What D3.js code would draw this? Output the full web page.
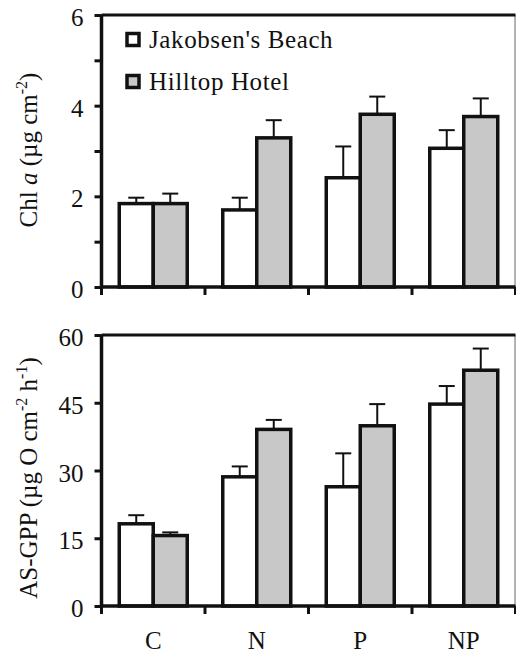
<!DOCTYPE html>
<html>
<head>
<meta charset="utf-8">
<script src="https://cdn.jsdelivr.net/npm/d3@7"></script>
<style>
  html, body { margin: 0; padding: 0; background: #fff; }
  svg { display: block; }
  text { font-family: "Liberation Serif", "Times New Roman", serif; fill: #111; }
</style>
</head>
<body>
<svg id="chart" width="516" height="656"></svg>
<script>
// ---- data ----
const categories = ["C", "N", "P", "NP"];
const seriesNames = ["Jakobsen's Beach", "Hilltop Hotel"];
const chlJakobsen = [1.84, 1.70, 2.41, 3.06];
const chlJakobsenErr = [0.13, 0.27, 0.69, 0.40];
const chlHilltop = [1.84, 3.29, 3.81, 3.76];
const chlHilltopErr = [0.22, 0.39, 0.39, 0.40];
const gppJakobsen = [18.2, 28.6, 26.4, 44.7];
const gppJakobsenErr = [1.9, 2.3, 7.4, 4.0];
const gppHilltop = [15.6, 39.1, 39.9, 52.2];
const gppHilltopErr = [0.7, 2.1, 4.8, 4.8];
const chlTicks = [0, 2, 4, 6];
const chlMinorTicks = [1, 3, 5];
const gppTicks = [0, 15, 30, 45, 60];

const fills = ["#ffffff", "#c8c8c8"];
const svg = d3.select("#chart");

const xLeft = 101.5, xRight = 515.5;
const x0 = d3.scaleBand().domain(categories).range([xLeft, xRight]).padding(0);
const barW = 34;
const x1 = d3.scaleBand().domain(seriesNames)
  .range([x0.bandwidth() / 2 - barW, x0.bandwidth() / 2 + barW]).padding(0);

function panel(cfg) {
  const y = d3.scaleLinear().domain(cfg.domain).range([cfg.bottom, cfg.top]);
  const g = svg.append("g");

  // frame: thin right edge, thick top edge
  g.append("line").attr("x1", xRight - 0.5).attr("x2", xRight - 0.5)
    .attr("y1", cfg.top).attr("y2", cfg.bottom)
    .attr("stroke", "#666").attr("stroke-width", 1);
  g.append("line").attr("x1", xLeft).attr("x2", xRight)
    .attr("y1", cfg.top).attr("y2", cfg.top)
    .attr("stroke", "#111").attr("stroke-width", 3);

  const data = categories.map((c, i) => ({
    cat: c,
    vals: [
      { s: seriesNames[0], v: cfg.a[i], e: cfg.ae[i], k: 0 },
      { s: seriesNames[1], v: cfg.b[i], e: cfg.be[i], k: 1 }
    ]
  }));

  const grp = g.selectAll("g.grp").data(data).join("g")
    .attr("transform", d => `translate(${x0(d.cat)},0)`);

  // error bars (upper only)
  grp.selectAll("line.err").data(d => d.vals).join("line")
    .attr("x1", d => x1(d.s) + x1.bandwidth() / 2)
    .attr("x2", d => x1(d.s) + x1.bandwidth() / 2)
    .attr("y1", d => y(d.v)).attr("y2", d => y(d.v + d.e))
    .attr("stroke", "#111").attr("stroke-width", 2);
  grp.selectAll("line.cap").data(d => d.vals).join("line")
    .attr("x1", d => x1(d.s) + x1.bandwidth() / 2 - 8)
    .attr("x2", d => x1(d.s) + x1.bandwidth() / 2 + 8)
    .attr("y1", d => y(d.v + d.e)).attr("y2", d => y(d.v + d.e))
    .attr("stroke", "#111").attr("stroke-width", 2);

  grp.selectAll("rect").data(d => d.vals).join("rect")
    .attr("x", d => x1(d.s))
    .attr("width", x1.bandwidth())
    .attr("y", d => y(d.v))
    .attr("height", d => y(0) - y(d.v))
    .attr("fill", d => fills[d.k])
    .attr("stroke", "#111").attr("stroke-width", 3.5)
    .attr("stroke-linejoin", "miter");

  // y axis
  const yAxis = d3.axisLeft(y).tickValues(cfg.ticks).tickSize(7).tickPadding(11)
    .tickFormat(d3.format("d"));
  const ya = g.append("g").attr("transform", `translate(${xLeft},0)`).call(yAxis);
  ya.select(".domain").attr("stroke", "#111").attr("stroke-width", 3.5)
    .attr("d", `M0,${cfg.top}V${cfg.bottom}`);
  ya.selectAll(".tick line").attr("stroke", "#111").attr("stroke-width", 3);
  ya.selectAll(".tick text").attr("font-size", 25)
    .attr("font-family", "Liberation Serif, Times New Roman, serif")
    .attr("fill", "#111").attr("dy", "0.42em");

  if (cfg.minor) {
    const ym = d3.axisLeft(y).tickValues(cfg.minor).tickSize(7).tickFormat("");
    const ymg = g.append("g").attr("transform", `translate(${xLeft},0)`).call(ym);
    ymg.select(".domain").remove();
    ymg.selectAll(".tick line").attr("stroke", "#111").attr("stroke-width", 3);
  }

  // x axis
  const xa = g.append("g").attr("transform", `translate(0,${cfg.bottom})`)
    .call(d3.axisBottom(x0).tickSize(0).tickFormat(""));
  xa.select(".domain").attr("stroke", "#111").attr("stroke-width", 3.5)
    .attr("d", `M${xLeft},0H${xRight}`);
  const bounds = categories.map(c => x0(c)).concat([xRight]);
  xa.selectAll("line.bound").data(bounds).join("line")
    .attr("x1", d => d).attr("x2", d => d).attr("y1", 0).attr("y2", 8)
    .attr("stroke", "#111").attr("stroke-width", 3);

  return { y, g };
}

const topPanel = panel({
  domain: [0, 6], top: 15, bottom: 287,
  a: chlJakobsen, ae: chlJakobsenErr, b: chlHilltop, be: chlHilltopErr,
  ticks: chlTicks, minor: chlMinorTicks
});
const bottomPanel = panel({
  domain: [0, 60], top: 335, bottom: 606,
  a: gppJakobsen, ae: gppJakobsenErr, b: gppHilltop, be: gppHilltopErr,
  ticks: gppTicks, minor: null
});

// category labels
svg.append("g").selectAll("text").data(categories).join("text")
  .attr("x", d => x0(d) + x0.bandwidth() / 2)
  .attr("y", 649)
  .attr("text-anchor", "middle")
  .attr("font-size", 25)
  .text(d => d);

// legend
const leg = svg.append("g");
seriesNames.forEach((s, i) => {
  const yy = 39 + i * 42;
  leg.append("rect").attr("x", 127).attr("y", yy - 5.5).attr("width", 12).attr("height", 12)
    .attr("fill", fills[i]).attr("stroke", "#111").attr("stroke-width", 3.5);
  leg.append("text").attr("x", 149).attr("y", yy + 9)
    .attr("font-size", 25).attr("letter-spacing", 0.6).text(s);
});

// y axis titles
const t1 = svg.append("text").attr("transform", "translate(37,150) rotate(-90)")
  .attr("text-anchor", "middle").attr("font-size", 25);
t1.append("tspan").text("Chl ");
t1.append("tspan").attr("font-style", "italic").text("a");
t1.append("tspan").text(" (\u00b5g cm");
t1.append("tspan").attr("font-size", 16).attr("dy", -10).text("-2");
t1.append("tspan").attr("dy", 10).text(")");

const t2 = svg.append("text").attr("transform", "translate(37,478) rotate(-90)")
  .attr("text-anchor", "middle").attr("font-size", 25);
t2.append("tspan").text("AS-GPP (\u00b5g O cm");
t2.append("tspan").attr("font-size", 16).attr("dy", -10).text("-2");
t2.append("tspan").attr("dy", 10).text(" h");
t2.append("tspan").attr("font-size", 16).attr("dy", -10).text("-1");
t2.append("tspan").attr("dy", 10).text(")");
</script>
</body>
</html>
